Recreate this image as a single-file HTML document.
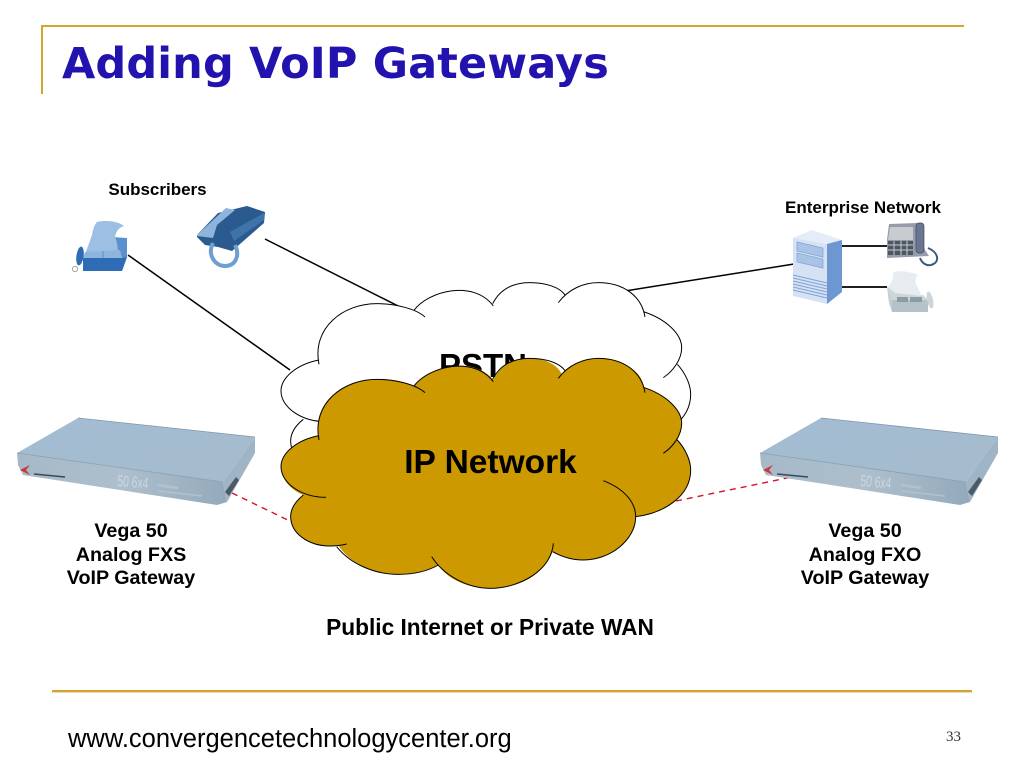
<!DOCTYPE html>
<html>
<head>
<meta charset="utf-8">
<style>
html,body{margin:0;padding:0;background:#fff;width:1024px;height:768px;overflow:hidden}
svg{display:block}
text{font-family:"Liberation Sans",sans-serif}
.b{font-weight:bold;fill:#000}
</style>
</head>
<body>
<svg width="1024" height="768" viewBox="0 0 1024 768" xmlns="http://www.w3.org/2000/svg">
<defs>
<linearGradient id="top" x1="0" y1="0" x2="1" y2="1"><stop offset="0" stop-color="#a3bcd3"/><stop offset="1" stop-color="#a6bbcc"/></linearGradient>
<linearGradient id="front" x1="0" y1="0" x2="1" y2="0"><stop offset="0" stop-color="#a5b9c8"/><stop offset=".5" stop-color="#adbfcd"/><stop offset="1" stop-color="#93aabb"/></linearGradient>
<g id="device">
<polygon points="78,418 255,437 223,482 17,453" fill="url(#top)"/>
<polygon points="17,453 223,482 227,502 217,505 23,475 18,465" fill="url(#front)"/>
<polygon points="223,482 255,437 255,453 227,502" fill="#9fb5c5"/>
<line x1="78" y1="418" x2="255" y2="437" stroke="#7f97aa" stroke-width=".8"/>
<line x1="17" y1="453" x2="223" y2="482" stroke="#8aa1b3" stroke-width=".8"/>
<polygon points="225,492 236,477 239,480 229,496" fill="#4a5a66"/>
<polygon points="20,470 30,465 26,470 30,475" fill="#c8383c"/>
<line x1="34" y1="474" x2="65" y2="477" stroke="#3d4a56" stroke-width="1.6"/>
<text x="117" y="486" font-size="16" textLength="31" lengthAdjust="spacingAndGlyphs" fill="#ccd8e0" transform="rotate(5 117 486)">50 6x4</text>
<line x1="158" y1="485" x2="178" y2="488" stroke="#b3c2cc" stroke-width="2.5"/>
<line x1="158" y1="491" x2="202" y2="496" stroke="#b3c2cc" stroke-width="1.5"/>
</g>
<g id="lobes" fill="none" stroke="#000" stroke-width="3">
<path d="M147,510 C125,400 220,328 320,328 C380,328 440,345 465,368"/>
<path d="M432,348 C475,290 610,255 670,335"/>
<path d="M668,328 C690,285 730,265 780,265 C830,265 870,280 885,302"/>
<path d="M865,325 C895,285 940,265 985,265 C1060,265 1115,305 1125,368"/>
<path d="M1120,352 C1190,375 1235,420 1235,460 C1235,495 1210,530 1180,550"/>
<path d="M1222,510 C1245,535 1262,570 1262,600 C1262,680 1180,730 1097,740"/>
<path d="M1000,632 C1060,655 1097,695 1097,740 C1097,810 1020,870 940,870 C905,870 875,860 848,845"/>
<path d="M850,820 C845,900 750,955 660,955 C590,955 520,915 485,860"/>
<path d="M505,885 C470,905 430,913 385,913 C310,913 240,880 200,830"/>
<path d="M230,822 C210,827 195,828 180,828 C115,828 62,790 62,740 C62,715 75,695 100,675"/>
<path d="M168,682 C95,682 33,640 33,590 C33,550 80,510 147,497"/>
</g>
<path id="fillp" d="M147,497 C125,400 220,328 320,328 C360,328 405,335 432,348 C475,290 610,255 670,330 C690,285 730,265 780,265 C820,265 860,280 875,312 C895,285 940,265 985,265 C1060,265 1115,305 1122,352 C1190,375 1235,420 1235,460 C1235,475 1230,495 1222,510 C1245,535 1262,570 1262,600 C1262,680 1180,730 1097,740 C1097,810 1020,870 940,870 C905,870 875,860 848,845 C820,915 750,955 660,955 C590,955 530,925 505,885 C470,905 430,913 385,913 C310,913 240,880 205,826 C195,828 190,828 180,828 C115,828 62,790 62,740 C62,715 75,695 100,675 C60,660 33,625 33,590 C33,550 80,510 147,497 Z"/>
</defs>
<rect width="1024" height="768" fill="#fff"/>

<!-- Header and footer rules -->
<rect x="41" y="25" width="923" height="2" fill="#d2a62e"/>
<rect x="41" y="25" width="2" height="69" fill="#d2a62e"/>
<rect x="52" y="690" width="920" height="2.4" fill="#d2a62e"/>

<text x="62" y="78" style="font-family:'DejaVu Sans',sans-serif" font-weight="bold" font-size="43" letter-spacing="0.15" fill="#2212ae">Adding VoIP Gateways</text>

<!-- connectors -->
<g stroke="#000" stroke-width="1.5" fill="none">
<line x1="128" y1="255" x2="290" y2="370"/>
<line x1="265" y1="239" x2="410" y2="312"/>
<line x1="625" y1="291" x2="794" y2="264"/>
<line x1="842" y1="246" x2="887" y2="246" stroke-width="1.7"/>
<line x1="842" y1="287" x2="887" y2="287" stroke-width="1.7"/>
</g>
<g stroke="#d8102c" stroke-width="1.4" fill="none" stroke-dasharray="6 5">
<line x1="232" y1="493" x2="296" y2="524"/>
<line x1="676" y1="501" x2="792" y2="477"/>
</g>

<!-- Left fax -->
<g>
<polygon points="112,237 127,238 127,257 122,271 112,258" fill="#5a90cc"/>
<path d="M97,222 C105,220 118,221 124,226 C118,228 116,232 115,237 C117,241 118,248 118,254 L85,254 C88,247 90,240 92,235 C93,230 94,225 97,222 Z" fill="#9dbfe3"/>
<polygon points="85,252 120,250 122,258 83,258" fill="#8fb5de"/>
<line x1="103" y1="251" x2="103" y2="258" stroke="#5a90cc" stroke-width="1"/>
<polygon points="83,258 122,258 122,271 83,271" fill="#2e6db5"/>
<polygon points="122,258 127,257 122,271" fill="#2e6db5"/>
<ellipse cx="80" cy="256" rx="3.6" ry="9.5" fill="#2f6cb2" transform="rotate(8 80 256)"/>
<circle cx="75" cy="269" r="2.6" fill="none" stroke="#aaa" stroke-width="1.1"/>
</g>
<!-- Left phone -->
<g>
<polygon points="197,237 205,245 218,247 232,251 264,223 265,212 247,206 218,213 197,235" fill="#2a5a8e"/>
<polygon points="197,235 226,208 235,210 217,225 213,238 197,236" fill="#8fb4dc"/>
<polygon points="230,232 264,213 264,220 234,241" fill="#3e74aa"/>
<path d="M213,243 C207,255 215,266 225,266 C236,266 240,255 235,245" fill="none" stroke="#6d9fd0" stroke-width="4"/>
</g>
<!-- Server -->
<g>
<polygon points="793,238 812,230 842,240 827,244" fill="#e3ecf8"/>
<polygon points="793,238 827,244 827,304 793,296" fill="#d5e2f4"/>
<polygon points="827,244 842,240 842,292 827,304" fill="#6d97d0"/>
<polygon points="797,242 823,248 823,257 797,251" fill="#a9c3e6" stroke="#7fa3d4" stroke-width=".7"/>
<polygon points="797,253 823,259 823,268 797,262" fill="#a9c3e6" stroke="#7fa3d4" stroke-width=".7"/>
<g stroke="#7fa3d4" stroke-width="1">
<line x1="793" y1="275" x2="827" y2="283"/>
<line x1="793" y1="278" x2="827" y2="286"/>
<line x1="793" y1="281" x2="827" y2="289"/>
<line x1="793" y1="284" x2="827" y2="292"/>
<line x1="793" y1="287" x2="827" y2="295"/>
<line x1="793" y1="290" x2="827" y2="298"/>
</g>
</g>
<!-- Right phone -->
<g>
<polygon points="889,224 917,223 925,250 929,256 887,258 887,240" fill="#969bac"/>
<polygon points="890,227 913,227 913,240 888,240" fill="#c8ccd0"/>
<rect x="888" y="241" width="25" height="14" fill="#4d5560"/>
<g stroke="#c5cad2" stroke-width="1"><line x1="888" y1="245" x2="913" y2="245"/><line x1="888" y1="250" x2="913" y2="250"/><line x1="894" y1="241" x2="894" y2="255"/><line x1="901" y1="241" x2="901" y2="255"/><line x1="907" y1="241" x2="907" y2="255"/></g>
<rect x="916" y="223" width="8" height="30" rx="3" fill="#6a7590" stroke="#3f4a60" stroke-width=".7"/>
<path d="M928,248 C938,252 941,262 931,265 C926,266 922,263 920,258" fill="none" stroke="#3d5a7a" stroke-width="2"/>
</g>
<!-- Right fax -->
<g>
<polygon points="887,287 923,295 928,300 892,300" fill="#cdd7da"/>
<polygon points="892,300 928,300 928,312 892,312" fill="#b5c3c9"/>
<polygon points="887,287 892,300 892,312 889,303" fill="#c2ced3"/>
<path d="M893,272 C900,270 912,272 918,275 C915,278 915,281 916,284 L922,296 L895,293 L888,287 C892,282 894,277 893,272 Z" fill="#e6ecef"/>
<rect x="897" y="297" width="11" height="5" fill="#8b9ca3"/>
<rect x="910" y="297" width="12" height="5" fill="#8b9ca3"/>
<ellipse cx="930" cy="300" rx="3" ry="8.5" fill="#ccd5d8" transform="rotate(-12 930 300)"/>
</g>

<!-- Devices -->
<use href="#device"/>
<use href="#device" transform="translate(743,0)"/>

<!-- PSTN cloud -->
<g transform="translate(270,194.3) scale(0.33333)">
<use href="#fillp" fill="#fff"/>
<use href="#lobes"/>
</g>
<text class="b" x="483" y="377" font-size="33" text-anchor="middle">PSTN</text>

<!-- IP cloud -->
<g transform="translate(270,270) scale(0.33333)">
<use href="#fillp" fill="#cc9900"/>
<use href="#lobes"/>
</g>
<text class="b" x="490.5" y="473" font-size="33.5" text-anchor="middle">IP Network</text>

<!-- Labels -->
<text class="b" x="157.5" y="195" font-size="17" text-anchor="middle">Subscribers</text>
<text class="b" x="863" y="213" font-size="17" text-anchor="middle">Enterprise Network</text>

<text class="b" x="131" y="537" font-size="19.7" text-anchor="middle">Vega 50</text>
<text class="b" x="131" y="561" font-size="19.7" text-anchor="middle">Analog FXS</text>
<text class="b" x="131" y="584" font-size="19.7" text-anchor="middle">VoIP Gateway</text>
<text class="b" x="865" y="537" font-size="19.7" text-anchor="middle">Vega 50</text>
<text class="b" x="865" y="561" font-size="19.7" text-anchor="middle">Analog FXO</text>
<text class="b" x="865" y="584" font-size="19.7" text-anchor="middle">VoIP Gateway</text>

<text class="b" x="490" y="635" font-size="22.7" text-anchor="middle">Public Internet or Private WAN</text>

<text x="68" y="747" font-size="25.5" fill="#000">www.convergencetechnologycenter.org</text>
<text x="946" y="741" font-size="15" style="font-family:'Liberation Serif',serif" fill="#333">33</text>
</svg>
</body>
</html>
